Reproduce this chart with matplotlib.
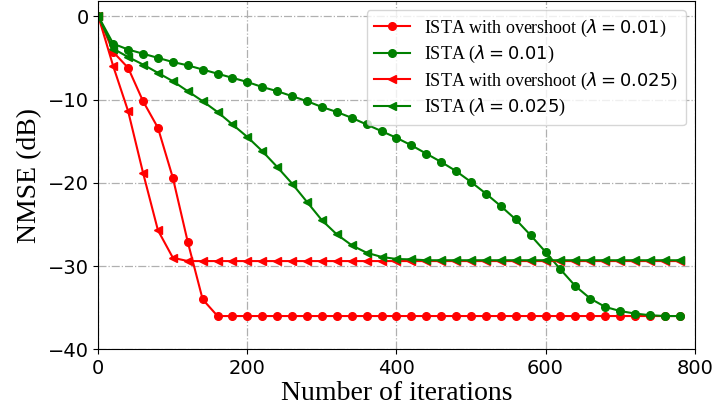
import matplotlib
matplotlib.use("Agg")
import matplotlib.pyplot as plt
import numpy as np

iterations = list(range(0, 800, 20))

ista_os_001 = [0, -4.3, -6.2, -10.2, -13.4, -19.4, -27.1, -34.0] + [-36.0] * 32
ista_001 = [0, -3.3, -4.0, -4.5, -5.0, -5.5, -5.9, -6.4, -6.9, -7.4,
            -7.9, -8.5, -9.0, -9.6, -10.2, -10.9, -11.5, -12.2, -13.0, -13.8,
            -14.6, -15.5, -16.5, -17.5, -18.6, -19.9, -21.3, -22.8, -24.4, -26.3,
            -28.3, -30.4, -32.4, -33.9, -34.9, -35.4, -35.7, -35.9, -36.0, -36.0]
ista_os_0025 = [0, -6.0, -11.4, -18.8, -25.7, -29.0] + [-29.4] * 34
ista_0025 = [0, -3.9, -4.9, -5.8, -6.8, -7.8, -9.0, -10.2, -11.5, -13.0,
             -14.5, -16.2, -18.1, -20.1, -22.3, -24.5, -26.2, -27.5, -28.4, -28.9,
             -29.15, -29.2] + [-29.3] * 18

labels = [r"ISTA with overshoot ($\lambda = 0.01$)",
          r"ISTA ($\lambda = 0.01$)",
          r"ISTA with overshoot ($\lambda = 0.025$)",
          r"ISTA ($\lambda = 0.025$)"]

serif = "Liberation Serif"

fig = plt.figure(figsize=(7.15, 4.11), dpi=100)
ax = fig.add_axes([0.1375, 0.150, 0.834, 0.847])

ms = 5.5
lw = 1.5
ax.plot(iterations, ista_os_001, color="red", marker="o", ms=ms, lw=lw, label=labels[0])
ax.plot(iterations, ista_001, color="green", marker="o", ms=ms, lw=lw, label=labels[1])
ax.plot(iterations, ista_os_0025, color="red", marker="<", ms=ms, lw=lw, label=labels[2])
ax.plot(iterations, ista_0025, color="green", marker="<", ms=ms, lw=lw, label=labels[3])

ax.set_xlim(0, 800)
ax.set_ylim(-40, 1.8)
ax.set_xticks([0, 200, 400, 600, 800])
ax.set_yticks([0, -10, -20, -30, -40])
ax.tick_params(labelsize=14)
ax.grid(True, linestyle="-.", color="#b0b0b0", linewidth=0.9)

ax.set_xlabel("Number of iterations", fontsize=20, family=serif, labelpad=2)
ax.set_ylabel("NMSE (dB)", fontsize=20, family=serif, labelpad=4)

leg = ax.legend(loc="upper right", prop={"family": serif, "size": 13},
                labelspacing=0.3)

fig.savefig("out.png", dpi=100)
